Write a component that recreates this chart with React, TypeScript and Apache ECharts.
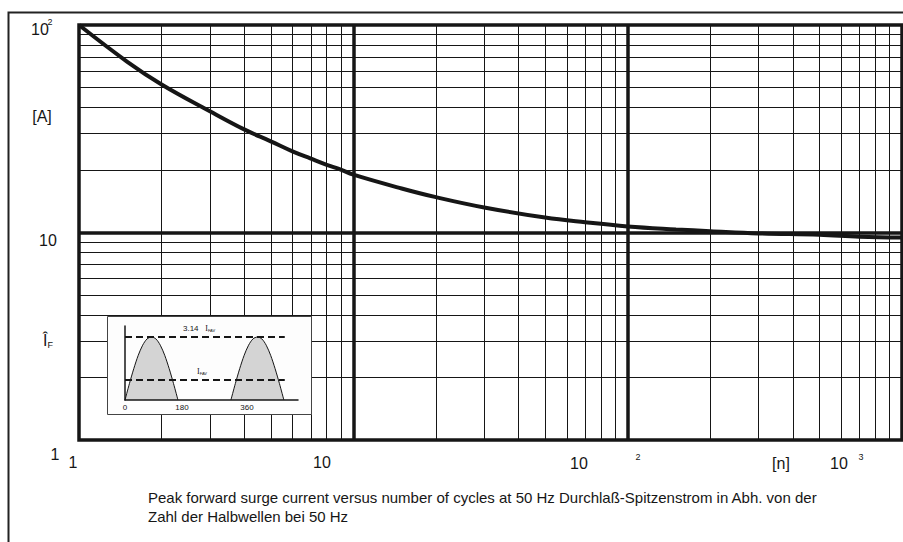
import React, { useEffect, useRef } from 'react';
import * as echarts from 'echarts';

// Main curve: peak forward surge current vs number of cycles
const cycles = [1, 1.5, 2, 3, 4, 5, 6, 7, 8, 9, 10, 15, 20, 30, 50, 70, 100, 150, 200, 300, 500, 700, 1000];
const surgeCurrent = [100, 66.5, 51.7, 38.4, 31.4, 27.5, 24.6, 22.7, 21.2, 20.1, 19.0, 16.3, 14.8, 13.2, 11.8, 11.2, 10.7, 10.35, 10.15, 9.9, 9.75, 9.55, 9.46];

// Grid lines
const xMinorGrid = [2, 3, 4, 5, 6, 7, 8, 9, 20, 30, 40, 50, 60, 70, 80, 90, 200, 300, 400, 500, 600, 700, 800, 900];
const xMajorGrid = [10, 100];
const yMinorGrid = [2, 3, 4, 5, 6, 7, 8, 9, 20, 30, 40, 50, 60, 70, 80, 90];
const yMajorGrid = [10];

// Tick labels
const yTickTexts = ['10', '10', '1'];
const ySupTexts = ['2', '', ''];
const xTickTexts = ['1', '10', '10', '10'];
const xSupTexts = ['', '', '2', '3'];
const yUnit = '[A]';
const yName = 'Î';
const yNameSub = 'F';
const xUnit = '[n]';
const captionLines = [
  'Peak forward surge current versus number of cycles at 50 Hz Durchlaß-Spitzenstrom in Abh. von der',
  'Zahl der Halbwellen bei 50 Hz',
];

// Inset sketch: half-wave pulses
const hump1Angle = [0, 15, 30, 45, 60, 75, 90, 105, 120, 135, 150, 165, 180];
const hump2Angle = [360, 375, 390, 405, 420, 435, 450, 465, 480, 495, 510, 525, 540];
const humpLevel = [0, 0.26, 0.5, 0.71, 0.87, 0.97, 1, 0.97, 0.87, 0.71, 0.5, 0.26, 0];
const insetTickValues = [0, 180, 360];
const peakLevel = 1;
const avgLevel = 0.318;
const dashEnd = 543;
const peakText = '3.14';

const FONT = "'Liberation Sans', Arial, sans-serif";
const INK = '#161616';

export default function App() {
  const ref = useRef<HTMLDivElement>(null);
  useEffect(() => {
    if (!ref.current) return;
    const chart = echarts.init(ref.current, undefined, { renderer: 'svg' });

    const labelText = (text: string, x: number, y: number, size = 16, align = 'center') => ({
      type: 'text',
      x,
      y,
      z: 20,
      style: { text, fill: INK, font: `${size}px ${FONT}`, align, verticalAlign: 'middle' },
    });

    const gridMark = (vals: number[], key: 'xAxis' | 'yAxis', width: number) =>
      vals.map((v) => ({ [key]: v, lineStyle: { width, color: INK, type: 'solid' } }));

    const graphics: any[] = [
      // outer frame (left and top edges visible)
      {
        type: 'polyline',
        z: 0,
        shape: { points: [[8.5, 542], [8.5, 12.5], [903, 12.5]] },
        style: { fill: 'none', stroke: '#222', lineWidth: 2 },
      },
      // inset box
      {
        type: 'rect',
        z: 3,
        shape: { x: 107.5, y: 316.5, width: 204, height: 98 },
        style: { fill: '#fdfdfd', stroke: '#444', lineWidth: 1 },
      },
      // y labels
      labelText(yTickTexts[0], 40, 29),
      labelText(ySupTexts[0], 50, 22, 9),
      labelText(yUnit, 42, 116),
      labelText(yTickTexts[1], 48, 240),
      {
        type: 'text',
        x: 48,
        y: 340,
        z: 20,
        style: {
          text: `{i|${yName}}{s|${yNameSub}}`,
          fill: INK,
          align: 'center',
          verticalAlign: 'middle',
          rich: {
            i: { font: `16px ${FONT}`, fill: INK },
            s: { font: `9px ${FONT}`, fill: INK, padding: [10, 0, 0, 0] },
          },
        },
      },
      labelText(yTickTexts[2], 55, 454),
      // x labels
      labelText(xTickTexts[0], 73, 462),
      labelText(xTickTexts[1], 322, 462),
      labelText(xTickTexts[2], 579, 463),
      labelText(xSupTexts[2], 638, 457, 9),
      labelText(xUnit, 781, 463),
      labelText(xTickTexts[3], 839, 463),
      labelText(xSupTexts[3], 861, 457, 9),
      // caption
      labelText(captionLines[0], 148, 497, 15, 'left'),
      labelText(captionLines[1], 148, 516, 15, 'left'),
      // inset annotations
      {
        type: 'text',
        x: 183,
        y: 328,
        z: 20,
        style: {
          text: `{a|${peakText}}  {b|I}{c|FAV}`,
          fill: INK,
          align: 'left',
          verticalAlign: 'middle',
          rich: {
            a: { font: `8px ${FONT}`, fill: INK },
            b: { font: `8px serif`, fill: INK },
            c: { font: `4px ${FONT}`, fill: INK, padding: [4, 0, 0, 0] },
          },
        },
      },
      {
        type: 'text',
        x: 197,
        y: 371,
        z: 20,
        style: {
          text: `{b|I}{c|FAV}`,
          fill: INK,
          align: 'left',
          verticalAlign: 'middle',
          rich: {
            b: { font: `8px serif`, fill: INK },
            c: { font: `4px ${FONT}`, fill: INK, padding: [4, 0, 0, 0] },
          },
        },
      },
    ];

    const humpSeries = (xs: number[], extra: any = {}) => ({
      type: 'line',
      xAxisIndex: 1,
      yAxisIndex: 1,
      data: xs.map((x, i) => [x, humpLevel[i]]),
      smooth: 0.3,
      symbol: 'none',
      z: 6,
      lineStyle: { color: INK, width: 1 },
      areaStyle: { color: '#d4d4d4', opacity: 1 },
      ...extra,
    });

    chart.setOption({
      animation: false,
      backgroundColor: '#ffffff',
      grid: [
        {
          left: 79,
          top: 25,
          right: 1,
          bottom: 102,
          show: true,
          borderWidth: 3.5,
          borderColor: INK,
          backgroundColor: 'transparent',
          z: 2,
        },
        { left: 125, top: 326, width: 173, height: 74, z: 5 },
      ],
      xAxis: [
        {
          type: 'log',
          logBase: 10,
          min: 1,
          max: 1000,
          gridIndex: 0,
          axisLine: { show: false },
          axisTick: { show: false },
          axisLabel: { show: false },
          splitLine: { show: false },
        },
        {
          type: 'value',
          gridIndex: 1,
          min: 0,
          max: 588,
          interval: 180,
          z: 7,
          axisLine: { show: true, lineStyle: { color: INK, width: 1.5 } },
          axisTick: { show: false },
          splitLine: { show: false },
          axisLabel: {
            show: true,
            showMaxLabel: false,
            margin: 3,
            color: INK,
            fontSize: 8,
            fontFamily: FONT,
            formatter: (v: number) => {
              const idx = insetTickValues.indexOf(v);
              if (idx < 0) return '';
              if (idx === 1) return `{m|${v}}`;
              if (idx === 2) return `{r|${v}}`;
              return `${v}`;
            },
            rich: {
              m: { fontSize: 8, fontFamily: FONT, color: INK, padding: [0, 0, 0, 8] },
              r: { fontSize: 8, fontFamily: FONT, color: INK, padding: [0, 0, 0, 32] },
            },
          },
        },
      ],
      yAxis: [
        {
          type: 'log',
          logBase: 10,
          min: 1,
          max: 100,
          gridIndex: 0,
          axisLine: { show: false },
          axisTick: { show: false },
          axisLabel: { show: false },
          splitLine: { show: false },
        },
        {
          type: 'value',
          gridIndex: 1,
          min: 0,
          max: 1.175,
          z: 7,
          axisLine: { show: true, lineStyle: { color: INK, width: 1.5 } },
          axisTick: { show: false },
          axisLabel: { show: false },
          splitLine: { show: false },
        },
      ],
      graphic: graphics,
      series: [
        {
          type: 'line',
          name: 'grid',
          data: [],
          z: 1,
          silent: true,
          markLine: {
            z: 1,
            silent: true,
            symbol: ['none', 'none'],
            label: { show: false },
            emphasis: { disabled: true },
            data: [
              ...gridMark(xMinorGrid, 'xAxis', 1),
              ...gridMark(yMinorGrid, 'yAxis', 1),
              ...gridMark(xMajorGrid, 'xAxis', 3.5),
              ...gridMark(yMajorGrid, 'yAxis', 3.5),
            ],
          },
        },
        {
          type: 'line',
          name: 'surge',
          data: cycles.map((c, i) => [c, surgeCurrent[i]]),
          smooth: 0.4,
          symbol: 'none',
          z: 10,
          lineStyle: { color: INK, width: 4 },
        },
        humpSeries(hump1Angle, {
          markLine: {
            z: 8,
            silent: true,
            symbol: ['none', 'none'],
            label: { show: false },
            lineStyle: { color: INK, width: 2, type: [7, 4] },
            data: [
              [{ coord: [0, peakLevel] }, { coord: [dashEnd, peakLevel] }],
              [{ coord: [0, avgLevel] }, { coord: [dashEnd, avgLevel] }],
            ],
          },
        }),
        humpSeries(hump2Angle),
      ],
    });
    return () => chart.dispose();
  }, []);

  return (
    <div
      ref={ref}
      style={{ position: 'absolute', left: 0, top: 0, width: 903, height: 542 }}
    />
  );
}
